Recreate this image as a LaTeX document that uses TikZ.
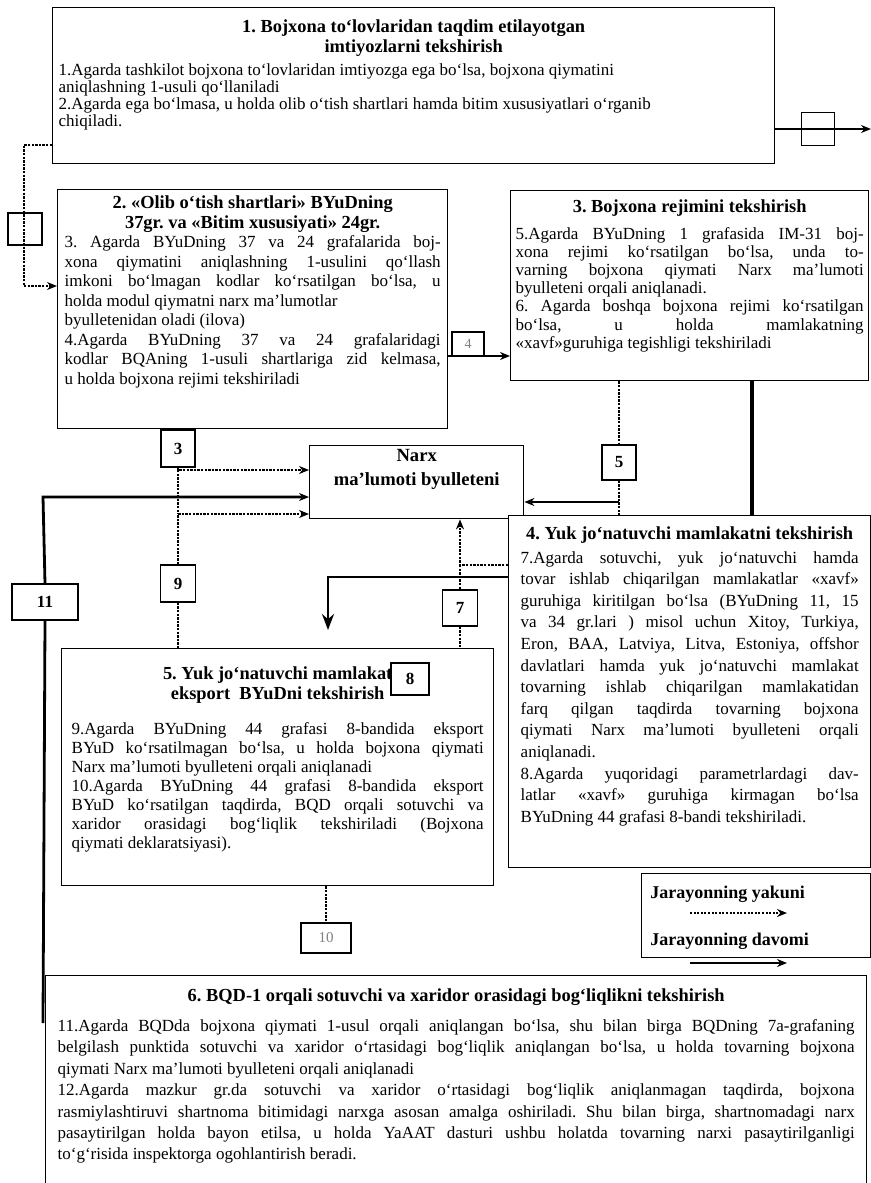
\documentclass[tikz,border=0pt]{standalone}
\usepackage{fontspec}
\setmainfont{Liberation Serif}
\usetikzlibrary{arrows.meta}
\pgfdeclarelayer{bg}
\pgfsetlayers{bg,main}
\frenchspacing
\newdimen\pxu \pxu=0.5pt
\newcommand\jl[1]{\makebox[\linewidth][s]{#1}\par}
\newcommand\nl[1]{\mbox{#1}\par}
\newcommand\boxtext[3]{\parbox[c][#2\pxu][t]{#1\pxu}{#3}}
\newcommand\ttl{\bfseries\fontsize{9.2pt}{9.8pt}\selectfont}
\newcommand\bodyf[1]{\fontsize{8.5pt}{#1}\selectfont}
\tikzset{
  frame/.style={draw, line width=0.7pt, fill=white, anchor=north west, inner ysep=0pt},
  num/.style={draw, line width=0.7pt, fill=white, inner sep=0pt, font=\bfseries\fontsize{8.5pt}{10pt}\selectfont},
  emptybox/.style={draw, line width=0.7pt, inner sep=0pt},
  yak/.style={line width=1.4pt, dash pattern=on 1.2pt off 0.6pt},
  dav/.style={line width=1.4pt},
  tip/.style={-{Stealth[length=5pt,width=4pt]}},
  bigtip/.style={-{Stealth[length=8pt,width=6pt]}},
}
\begin{document}
\begin{tikzpicture}[x=0.5pt,y=-0.5pt]
\useasboundingbox (0,0) rectangle (871,1183);
\clip (0,0) rectangle (871,1183);

% ---------- main boxes ----------
\node[frame, inner xsep=3pt] (b1) at (52,7) {\boxtext{710}{156}{%
\vspace*{6pt}%
{\centering\ttl 1. Bojxona to‘lovlaridan taqdim etilayotgan\\imtiyozlarni tekshirish\par}%
\vspace{3pt}%
{\bodyf{8.6pt}%
\nl{1.Agarda tashkilot bojxona to‘lovlaridan imtiyozga ega bo‘lsa, bojxona qiymatini}
\nl{aniqlashning 1-usuli qo‘llaniladi}
\nl{2.Agarda ega bo‘lmasa, u holda olib o‘tish shartlari hamda bitim xususiyatlari o‘rganib}
\nl{chiqiladi.}}}};

\node[frame, inner xsep=3.5pt] (b2) at (57,189) {\boxtext{376}{239}{%
\vspace*{3pt}%
{\centering\ttl 2. «Olib o‘tish shartlari» BYuDning\\37gr. va «Bitim xususiyati» 24gr.\par}%
{\bodyf{9.75pt}%
\jl{3. Agarda BYuDning 37 va 24 grafalarida boj-}
\jl{xona qiymatini aniqlashning 1-usulini qo‘llash}
\jl{imkoni bo‘lmagan kodlar ko‘rsatilgan bo‘lsa, u}
\nl{holda modul qiymatni narx ma’lumotlar}
\nl{byulletenidan oladi (ilova)}
\jl{4.Agarda BYuDning 37 va 24 grafalaridagi}
\jl{kodlar BQAning 1-usuli shartlariga zid kelmasa,}
\nl{u holda bojxona rejimi tekshiriladi}}}};

\node[frame, inner xsep=2.5pt] (b3) at (510,190) {\boxtext{348}{190}{%
\vspace*{4.5pt}%
{\centering\ttl 3. Bojxona rejimini tekshirish\par}%
\vspace{4.2pt}%
{\bodyf{9.1pt}%
\jl{5.Agarda BYuDning 1 grafasida IM-31 boj-}
\jl{xona rejimi ko‘rsatilgan bo‘lsa, unda to-}
\jl{varning bojxona qiymati Narx ma’lumoti}
\nl{byulleteni orqali aniqlanadi.}
\jl{6. Agarda boshqa bojxona rejimi ko‘rsatilgan}
\jl{bo‘lsa, u holda mamlakatning}
\nl{«xavf»guruhiga tegishligi tekshiriladi}}}};

\node[frame, inner xsep=0pt] (narx) at (309,445) {\boxtext{214}{73}{%
\vspace*{2pt}\centering\bfseries\fontsize{9.3pt}{12pt}\selectfont Narx\\ma’lumoti byulleteni\par}};

\node[frame, inner xsep=6pt] (b4) at (508,515) {\boxtext{338}{352}{%
\vspace*{5.5pt}%
{\centering\ttl 4. Yuk jo‘natuvchi mamlakatni tekshirish\par}%
\vspace{1pt}%
{\bodyf{10.8pt}%
\jl{7.Agarda sotuvchi, yuk jo‘natuvchi hamda}
\jl{tovar ishlab chiqarilgan mamlakatlar «xavf»}
\jl{guruhiga kiritilgan bo‘lsa (BYuDning 11, 15}
\jl{va 34 gr.lari ) misol uchun Xitoy, Turkiya,}
\jl{Eron, BAA, Latviya, Litva, Estoniya, offshor}
\jl{davlatlari hamda yuk jo‘natuvchi mamlakat}
\jl{tovarning ishlab chiqarilgan mamlakatidan}
\jl{farq qilgan taqdirda tovarning bojxona}
\jl{qiymati Narx ma’lumoti byulleteni orqali}
\nl{aniqlanadi.}
\jl{8.Agarda yuqoridagi parametrlardagi dav-}
\jl{latlar «xavf» guruhiga kirmagan bo‘lsa}
\nl{BYuDning 44 grafasi 8-bandi tekshiriladi.}}}};

\node[frame, inner xsep=5pt] (b5) at (61,648) {\boxtext{412}{237}{%
\vspace*{9pt}%
{\centering\ttl 5. Yuk jo‘natuvchi mamlakat\\eksport\ \ BYuDni tekshirish\par}%
\vspace{8.2pt}%
{\bodyf{9.5pt}%
\jl{9.Agarda BYuDning 44 grafasi 8-bandida eksport}
\jl{BYuD ko‘rsatilmagan bo‘lsa, u holda bojxona qiymati}
\nl{Narx ma’lumoti byulleteni orqali aniqlanadi}
\jl{10.Agarda BYuDning 44 grafasi 8-bandida eksport}
\jl{BYuD ko‘rsatilgan taqdirda, BQD orqali sotuvchi va}
\jl{xaridor orasidagi bog‘liqlik tekshiriladi (Bojxona}
\nl{qiymati deklaratsiyasi).}}}};

\node[frame, inner xsep=6pt] (b6) at (45,975) {\boxtext{797}{240}{%
\vspace*{6.5pt}%
{\centering\ttl 6. BQD-1 orqali sotuvchi va xaridor orasidagi bog‘liqlikni tekshirish\par}%
\vspace{4.3pt}%
{\bodyf{10.7pt}%
\jl{11.Agarda BQDda bojxona qiymati 1-usul orqali aniqlangan bo‘lsa, shu bilan birga BQDning 7a-grafaning}
\jl{belgilash punktida sotuvchi va xaridor o‘rtasidagi bog‘liqlik aniqlangan bo‘lsa, u holda tovarning bojxona}
\nl{qiymati Narx ma’lumoti byulleteni orqali aniqlanadi}
\jl{12.Agarda mazkur gr.da sotuvchi va xaridor o‘rtasidagi bog‘liqlik aniqlanmagan taqdirda, bojxona}
\jl{rasmiylashtiruvi shartnoma bitimidagi narxga asosan amalga oshiriladi. Shu bilan birga, shartnomadagi narx}
\jl{pasaytirilgan holda bayon etilsa, u holda YaAAT dasturi ushbu holatda tovarning narxi pasaytirilganligi}
\nl{to‘g‘risida inspektorga ogohlantirish beradi.}}}};

% ---------- legend ----------
\node[frame, minimum width=114.5pt, minimum height=42pt] (leg) at (641,873) {};
\node[anchor=base west, inner sep=0pt, font=\bfseries\fontsize{9pt}{10pt}\selectfont] (lg1) at (650,898) {Jarayonning yakuni};
\node[anchor=base west, inner sep=0pt, font=\bfseries\fontsize{9pt}{10pt}\selectfont] (lg2) at (650,945) {Jarayonning davomi};

% ---------- small numbered boxes ----------
\node[emptybox, minimum width=17pt, minimum height=16pt] (nL) at (25,229) {};
\node[emptybox, minimum width=16.5pt, minimum height=16.5pt] (nR) at (818,129) {};
\node[num, minimum width=16pt, minimum height=12pt, text=gray, font=\fontsize{7pt}{8pt}\selectfont] (n4) at (468,344) {4};
\node[num, minimum width=17pt, minimum height=18.5pt] (n3) at (178,448.5) {3};
\node[num, minimum width=17.5pt, minimum height=18.5pt] (n9) at (178,583.5) {9};
\node[num, minimum width=33pt, minimum height=18pt] (n11) at (45,602) {11};
\node[num, minimum width=17pt, minimum height=17.5pt] (n5) at (619,462.5) {5};
\node[num, minimum width=17.5pt, minimum height=18pt] (n7) at (460,608) {7};
\node[num, fill=none, minimum width=19pt, minimum height=16pt] (n8) at (410,679) {8};
\node[num, minimum width=25pt, minimum height=15pt, text=gray, font=\fontsize{7.5pt}{9pt}\selectfont] (n10) at (326,938) {10};

% ---------- helper coordinates ----------
\coordinate (l1) at (24,145);
\coordinate (l2) at (24,286);
\coordinate (r1) at (871,129);
\coordinate (c4) at (0,356);
\coordinate (p3) at (178,470);
\coordinate (p9) at (178,514);
\coordinate (p11) at (43,497);
\coordinate (e11) at (43,1023);
\coordinate (p5) at (619,502);
\coordinate (q6) at (752,0);
\coordinate (k1) at (460,565);
\coordinate (k2) at (460,577);
\coordinate (k3) at (328,577);
\coordinate (k4) at (328,630);
\coordinate (g1) at (690,913);
\coordinate (g2) at (787,913);
\coordinate (g3) at (690,963);
\coordinate (g4) at (787,963);

% ---------- legend arrows (above the legend box) ----------
\draw[line width=0.8pt, dash pattern=on 1pt off 0.8pt, tip] (g1) -- (g2);
\draw[dav, tip] (g3) -- (g4);

% ---------- connectors ----------
\begin{pgfonlayer}{bg}
\draw[yak] (b1.west |- l1) -- (l1) -- (l2);
\draw[yak, tip] (l2) -- (b2.west |- l2);
\draw[dav, tip] (b1.east |- r1) -- (r1);
\draw[line width=0.8pt, tip] (b2.east |- c4) -- (b3.west |- c4);
\draw[yak, tip] (n3.south) -- (p3) -- (narx.west |- p3);
\draw[yak] (p3) -- (p9);
\draw[yak, tip] (n9.north) -- (p9) -- (narx.west |- p9);
\draw[yak] (n9.south) -- (b5.north -| n9);
\draw[dav, tip] (n11.north) -- (p11) -- (narx.west |- p11);
\draw[dav] (n11.south) -- (e11);
\draw[yak] (b3.south -| n5) -- (n5.north);
\draw[yak] (n5.south) -- (p5) -- (b4.north -| p5);
\draw[line width=1pt, tip] (p5) -- (narx.east |- p5);
\draw[line width=2pt] (b3.south -| q6) -- (b4.north -| q6);
\draw[yak, line width=1pt, tip] (b4.west |- k1) -- (k1) -- (narx.south -| k1);
\draw[dav, line width=1.2pt, bigtip] (b4.west |- k2) -- (k3) -- (k4);
\draw[yak] (k1) -- (n7.north);
\draw[yak] (n7.south) -- (b5.north -| n7);
\draw[yak] (b5.south -| n10) -- (n10.north);
\end{pgfonlayer}
\end{tikzpicture}
\end{document}
